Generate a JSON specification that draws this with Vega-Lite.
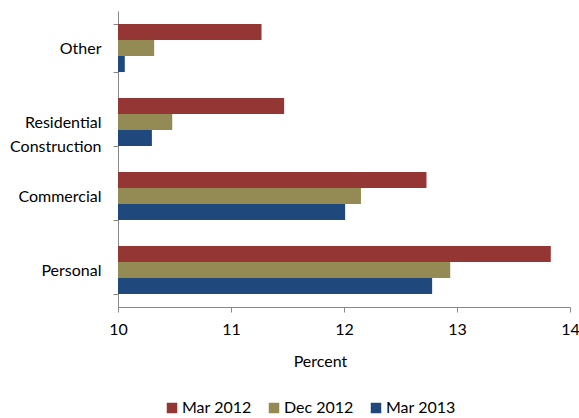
{
  "$schema": "https://vega.github.io/schema/vega-lite/v6.json",
  "width": 452,
  "height": 296,
  "autosize": {"type": "none"},
  "padding": {"left": 118, "top": 11, "right": 9, "bottom": 111},
  "background": "white",
  "config": {
    "view": {"stroke": null},
    "font": "Lato",
    "axis": {"labelFont": "Lato", "titleFont": "Lato", "labelColor": "#000", "titleColor": "#000", "domainColor": "#888", "tickColor": "#888", "grid": false, "zindex": 1}
  },
  "data": {
    "values": [
      {"category": "Other", "series": "Mar 2012", "value": 11.27},
      {"category": "Other", "series": "Dec 2012", "value": 10.32},
      {"category": "Other", "series": "Mar 2013", "value": 10.06},
      {"category": "Residential Construction", "series": "Mar 2012", "value": 11.47},
      {"category": "Residential Construction", "series": "Dec 2012", "value": 10.48},
      {"category": "Residential Construction", "series": "Mar 2013", "value": 10.30},
      {"category": "Commercial", "series": "Mar 2012", "value": 12.73},
      {"category": "Commercial", "series": "Dec 2012", "value": 12.15},
      {"category": "Commercial", "series": "Mar 2013", "value": 12.01},
      {"category": "Personal", "series": "Mar 2012", "value": 13.83},
      {"category": "Personal", "series": "Dec 2012", "value": 12.94},
      {"category": "Personal", "series": "Mar 2013", "value": 12.78}
    ]
  },
  "mark": {"type": "bar"},
  "encoding": {
    "y": {
      "field": "category",
      "type": "nominal",
      "sort": ["Other", "Residential Construction", "Commercial", "Personal"],
      "scale": {"paddingInner": 0.35, "paddingOuter": 0.175},
      "axis": {
        "title": null,
        "labelFontSize": 16,
        "labelPadding": 12,
        "tickBand": "extent",
        "tickSize": 5,
        "labelLineHeight": 24,
        "labelExpr": "datum.label == 'Residential Construction' ? ['Residential', 'Construction'] : datum.label"
      }
    },
    "yOffset": {
      "field": "series",
      "type": "nominal",
      "sort": ["Mar 2012", "Dec 2012", "Mar 2013"],
      "scale": {"paddingInner": 0, "paddingOuter": 0}
    },
    "x": {
      "field": "value",
      "type": "quantitative",
      "scale": {"domain": [10, 14], "zero": false, "nice": false},
      "axis": {
        "title": "Percent",
        "titleFontSize": 16,
        "titleFontWeight": "normal",
        "titlePadding": 16,
        "titleX": 202,
        "labelFontSize": 16,
        "labelPadding": 9,
        "tickSize": 5,
        "values": [10, 11, 12, 13, 14],
        "format": "d",
        "labelFlush": false
      }
    },
    "x2": {"datum": 10},
    "color": {
      "field": "series",
      "type": "nominal",
      "sort": ["Mar 2012", "Dec 2012", "Mar 2013"],
      "scale": {"domain": ["Mar 2012", "Dec 2012", "Mar 2013"], "range": ["#943634", "#948A54", "#1F497D"]},
      "legend": {
        "title": null,
        "orient": "none",
        "direction": "horizontal",
        "legendX": 46,
        "legendY": 389,
        "symbolType": "square",
        "symbolSize": 110,
        "symbolStrokeWidth": 0,
        "symbolOpacity": 1,
        "labelFontSize": 16,
        "labelFont": "Lato",
        "labelColor": "#000",
        "labelOffset": 2,
        "columnPadding": 14
      }
    }
  }
}
